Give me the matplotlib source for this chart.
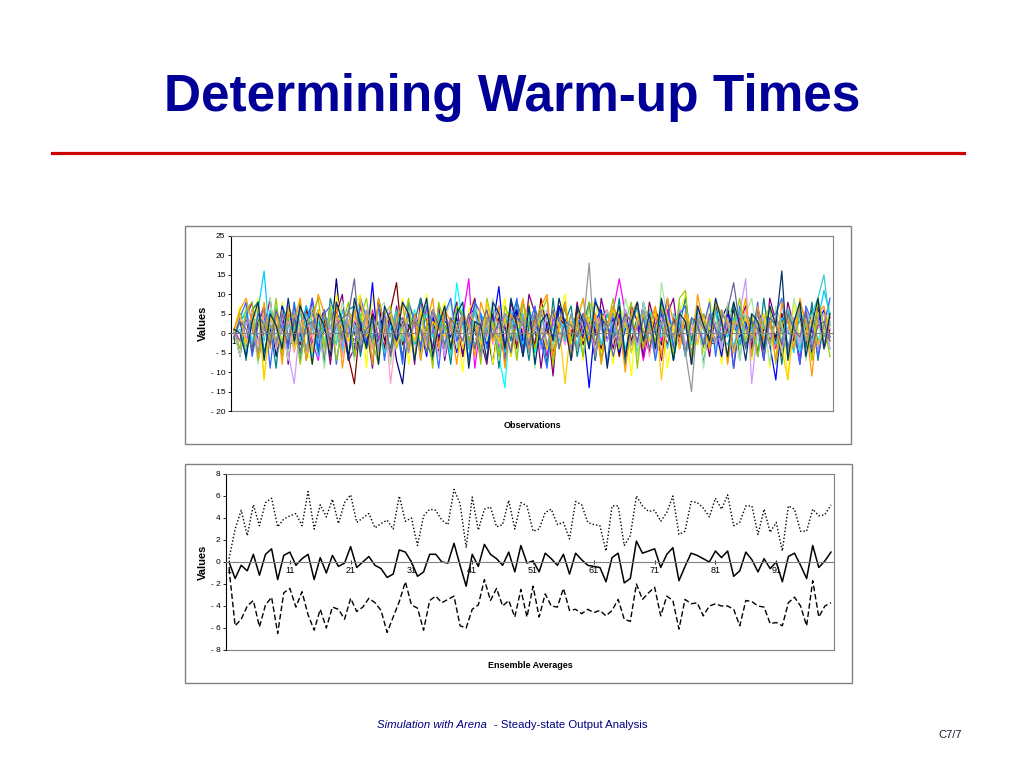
import matplotlib
matplotlib.use('Agg')
import matplotlib.pyplot as plt
from matplotlib.patches import Rectangle
from matplotlib.lines import Line2D
from matplotlib.ticker import FuncFormatter

plt.rcParams['font.family'] = ['Liberation Sans', 'DejaVu Sans']

W, H = 1024, 768

obs = list(range(1, 101))

# replications (top chart), one list per run
rep01 = [0, 3, -4, 6, -2, 1, 5, -6, 2, -3, 4, -1, 7, -5, 2, 6, -3, 14, -2, 3,
         -6, 1, 5, -4, 8, -2, 3, -7, -13, 2, 5, -3, 1, 6, -5, 2, -1, 4, -6, 3,
         7, -2, 1, -8, 4, 2, -5, 6, -1, 3, -4, 5, 2, -6, 1, 7, -3, 4, -2, 0,
         5, -7, 3, 1, -4, 6, -2, 2, -5, 4, 1, -3, 6, -1, 3, -6, 2, 5, -4, 1,
         -2, 4, 7, -5, 2, -3, 1, 6, -4, 3, -1, 5, -6, 2, 4, -3, 1, -5, 3, 2]
rep02 = [1, -2, 5, -4, 3, 7, -1, 2, -6, 4, -3, 2, 6, -2, -7, 3, 1, 5, -4, 0,
         3, -5, 2, 6, -1, -3, 4, 1, -6, 5, 2, -4, 7, 0, -3, 5, 1, -2, 4, 14,
         -9, 3, -1, 5, -4, 2, 6, -3, 1, -5, 4, 2, -6, 3, 7, -2, 1, -4, 5, -1,
         3, -5, 2, 6, 14, 5, -3, 2, -7, 1, 4, -2, 6, -4, 1, 3, -6, 5, 2, -3,
         7, -1, 2, -5, 4, 1, -3, 6, -2, 3, -4, 2, 5, -1, -6, 3, 1, 4, -3, 2]
rep03 = [0, 7, -5, 3, 9, -12, 5, -2, 8, -6, 3, 9, -4, -8, 6, 2, -7, 10, 3, -5,
         7, 10, -9, 10, 2, -6, 6, -3, 9, -8, 4, -2, 10, -7, 3, 8, -5, 2, -10, 6,
         9, -4, 5, -8, 2, 9, -6, 3, -2, 8, -5, 7, 2, -9, 5, 10, -3, 8, -7, 4,
         9, -5, 2, -8, 7, 3, -11, 5, -2, 8, -4, 6, -9, 2, 5, 10, -7, 3, -5, 9,
         2, -8, 7, 3, -4, 8, -7, 2, 5, -9, 6, 3, -12, 8, -2, 5, -7, 9, -4, 2]
rep04 = [-1, 3, 6, -2, 4, -5, 1, 7, -3, 2, -4, 5, 1, -6, 3, -2, 4, 1, -5, 6,
         2, -3, 5, -1, 3, -6, 2, 4, -2, 1, 6, -4, 2, -3, 5, 1, -5, 13, 3, -7,
         2, 5, -3, 4, -6, -14, 6, 1, -2, 4, -5, 3, 2, -4, 6, -1, 3, -3, 5, 1,
         -6, 4, 2, -2, 5, -4, 1, 3, -5, 6, 2, -1, 4, -7, 3, 1, -3, 5, -2, 4,
         -4, 6, 1, -3, 2, 5, -6, 3, -1, 2, 5, -3, 1, 4, -5, 2, 6, -2, 3, -4]
rep05 = [1, -6, 4, 8, -7, 1, 9, -4, 6, -8, 7, 2, -6, 9, -2, 4, -8, 5, 10, -7,
         -4, 7, 2, -9, 8, 3, -6, 7, -2, 5, -8, 9, 3, -4, 7, -7, 2, 8, -6, 4,
         9, -2, -8, 5, 3, -7, 8, 2, -4, 10, 5, -9, 3, -11, 7, 2, -6, 8, -2, 4,
         -7, 9, 2, -4, 5, -8, 7, 3, -6, 8, 2, -7, 5, 9, -4, 3, -8, 7, 2, -6,
         8, -2, 5, -9, 3, 7, -4, 2, -7, 9, 3, -6, 8, 2, -8, 5, -2, 7, -4, 1]
rep06 = [0, -2, 4, -5, 3, 6, -1, 2, -4, 5, 1, -3, 6, 2, -5, 3, -2, 4, 1, -6,
         -13, 3, -1, 5, 2, -4, 6, 13, -3, 1, 4, -5, 2, 3, -2, 6, -4, 1, 5, -3,
         2, -6, 4, 1, -2, 5, 3, -4, 8, 2, -3, 9, 1, -5, 4, 2, -1, 6, -3, 3,
         1, -4, 5, 2, -6, 3, -2, 4, 1, -5, 6, 2, -3, 4, -1, 3, -5, 2, 5, -2,
         3, -4, 1, 6, -3, 2, 4, -5, 1, 3, -2, 5, -4, 2, 3, -1, 6, -3, 1, 4]
rep07 = [0, 5, -7, 6, 8, -5, 2, -9, 7, 3, -4, 8, -7, 2, 6, -8, 9, 3, -2, 6,
         7, -6, 3, -8, 9, 2, -4, 6, -7, 8, 3, 9, -2, -7, 5, 2, -8, 7, 4, -4,
         8, -6, 2, 7, -9, 5, -2, 8, 3, -7, 6, 2, -8, 9, -4, 3, 7, -6, 2, 8,
         -7, 4, 6, -2, 9, -8, 2, 7, -4, 5, -6, 8, 3, -7, 2, 9, -2, 6, -8, 3,
         7, -4, 2, 8, -7, 5, 3, -6, 9, -2, 4, -8, 6, 2, 7, -4, 8, -7, 3, 1]
rep08 = [0, 5, -2, 3, -6, 4, 1, -3, 7, -1, 3, -5, 2, 6, -4, 1, -2, 5, 3, -6,
         2, 4, -3, 13, -5, 1, 6, -2, 3, -4, 5, 1, -6, 4, -1, 3, 2, -5, 6, -2,
         1, 4, -3, 2, 12, -4, 3, 6, -2, 1, 5, -4, 2, -1, 7, 3, -5, 4, 1, -14,
         3, 6, -2, 4, -5, 1, 3, -3, 8, 2, -4, 5, 1, -2, 6, -5, 3, 2, -3, 4,
         1, -6, 5, 2, -1, 3, -4, 6, 2, -3, -12, 4, 3, -2, 5, 1, -5, 3, 6, -1]
rep09 = [-1, 3, 5, -4, 6, 16, -3, 2, -5, 4, 1, -2, 7, 3, -6, 2, 5, -1, -4, 3,
         6, -2, 1, 4, -5, 3, -1, 5, 2, -3, 4, -6, 2, 1, 5, -3, 3, -2, 6, 1,
         -4, 5, 2, -1, 3, -5, 4, 1, -3, 6, 2, -4, 5, 1, -2, 3, -6, 4, 2, -1,
         5, -3, 1, 6, -4, 2, 3, -5, 4, 1, -2, 6, 1, -3, 4, 2, -5, 3, 1, -4,
         6, 2, -1, 4, -3, 5, 1, -6, 3, 2, -3, 4, 1, -5, 6, 2, -2, 3, 11, 5]
rep10 = [0, -6, 7, 3, -8, 5, 9, -4, 2, -7, 8, 3, -6, 7, 2, -9, 5, -2, 8, 3,
         -7, 9, 2, -4, 6, 8, -8, 3, -2, 7, 5, -7, 9, 2, -6, 4, 8, -4, 2, -8,
         7, 3, -2, 9, -7, 5, 2, -6, 8, 3, -9, 7, 5, -4, 2, 8, -7, 4, 9, -2,
         5, -8, 2, 7, -4, 9, 3, -6, 8, 2, -7, 13, 4, -2, 8, -6, 2, 7, -9, 5,
         3, -4, 8, 2, -7, 5, 9, -2, 4, -8, 7, 2, -6, 9, 3, -7, 5, 2, -4, 8]
rep11 = [1, 4, -2, 6, -3, 1, 5, -4, 2, 3, -5, 2, 4, -1, 6, -3, 1, 3, -6, 2,
         5, -1, 3, -4, 2, 6, -13, 1, 4, -2, 3, 5, -3, 2, -6, 4, 1, -2, 5, 3,
         -4, 1, 6, -3, 2, 4, -5, 3, 1, -2, 5, 2, -4, 6, 1, -3, 3, -1, 4, 2,
         -5, 3, 6, -2, 1, 4, -3, 2, 5, -6, 2, 4, -1, 3, -4, 6, 1, -2, 5, 3,
         -3, 1, 4, -5, 2, 6, -1, 3, -4, 2, 5, -2, 1, 4, -3, 6, 2, -5, 3, 1]
rep12 = [0, -4, 3, 1, -2, 5, -3, 6, 2, -5, -13, 3, 1, -4, 5, 2, -1, 4, -3, 6,
         2, -2, 5, 1, -4, 3, 6, -1, 2, -5, 4, 1, -3, 5, 2, -6, 3, 1, -2, 4,
         6, -3, 2, 1, -5, 4, 3, -2, 5, -1, 2, -4, 6, 3, -1, 1, -5, 4, 2, -3,
         5, 1, -2, 3, -4, 6, 2, -3, 1, 4, -5, 3, 2, -1, 6, -3, 1, 4, -2, 5,
         2, -4, 3, 1, 5, 14, -13, 2, 4, -1, 3, -5, 6, 1, -2, 4, -3, 2, 5, -4]
rep13 = [-1, 4, 8, -6, 2, 7, -9, 5, 3, -4, 8, -7, 2, 9, -4, 5, 7, -8, 3, 2,
         -6, 9, 4, -2, 7, -7, 5, 2, -8, 8, 3, -4, 7, 2, -9, 5, 9, -2, 3, -7,
         8, 5, -4, 2, 7, -8, 3, 9, -6, 2, 7, -2, -9, 5, 3, 8, -7, 2, 5, -4,
         9, 3, -8, 7, 2, -6, 5, 8, -2, 3, -7, 2, 9, -4, 5, 7, -8, 3, 2, 8,
         -6, 5, 3, -9, 7, 2, -2, 8, -7, 4, 5, 9, -4, 2, -8, 7, 3, -6, 2, 9]
rep14 = [0, 1, -5, 4, 3, -2, 6, 1, -4, 2, 3, -6, 5, 1, -2, 4, 2, -3, 6, -1,
         1, 5, -4, 2, 3, -5, 1, 6, -2, 4, -3, 2, 5, -1, 4, 1, -6, 3, 2, -4,
         6, -2, 1, 3, -5, 4, 2, -1, 5, -3, 1, 6, -4, 2, 3, -2, 5, 1, -6, 4,
         2, -3, 5, 1, -1, 4, -5, 3, 6, -2, 1, 3, -4, 5, 2, -6, 4, 1, -2, 3,
         5, -1, -3, 2, 6, -4, 1, 3, -5, 4, 2, -2, 6, 1, -4, 3, 5, 9, 15, 2]
rep15 = [1, -4, 6, 8, -7, 3, -2, 9, -6, 7, 3, -8, 2, 5, 9, -4, 7, -7, 2, 8,
         -6, 4, 9, -2, -8, 5, 7, -4, 2, 9, -7, 5, 3, -9, 8, 2, -4, 7, 5, -2,
         3, -8, 9, 2, -6, 7, 3, -7, 8, 2, -4, 5, 9, -8, 2, 7, -2, 4, -6, 8,
         5, -7, 2, 9, -4, 3, 8, -9, 5, 2, -2, 7, 3, -6, 9, 11, -8, 2, 5, -4,
         8, 3, -7, 2, 9, -2, 5, -6, 3, 7, -8, 2, 5, -4, 8, 3, -7, 9, 2, -6]
rep16 = [0, 5, -3, 2, 7, -12, 4, 1, -2, 6, -4, 3, 1, -5, 6, 2, -3, 5, 1, -2,
         4, 9, -1, 3, -6, 2, 5, -3, 1, 4, -2, 6, -5, 3, 1, -1, 4, 2, -4, 5,
         3, -3, 8, 1, -2, 4, -6, 3, 2, -1, 5, 1, -4, 6, 2, -13, 3, 1, -2, 4,
         -3, 5, 2, 6, -1, 3, -5, 4, 1, -2, 6, -12, 3, 1, -4, 5, 2, -3, 4, 1,
         -2, 6, 3, -5, 1, 4, -1, 2, 5, -3, 3, -4, -12, 2, 6, -1, 4, -3, 1, 5]
rep17 = [1, 6, 9, 3, -6, 8, -4, 5, -8, 7, 3, 9, -7, 2, 10, 5, -4, 8, -9, 3,
         6, -2, 5, -8, 9, 2, -6, 3, 8, -4, 5, -7, 2, 9, -4, 6, 3, -8, 5, 2,
         -6, 8, 3, -2, 7, -9, 5, 2, 9, -4, 3, 7, 10, -6, 2, 8, -7, 3, 9, -2,
         5, -8, 2, 7, 3, -10, 5, 8, -4, 2, 7, -6, 9, 3, -2, 5, -7, 10, 2, -4,
         8, 5, -8, 3, 2, 9, -6, 7, -2, 3, -7, 8, 3, -4, 9, 2, -11, 5, 7, -2]
rep18 = [-1, 3, 1, -4, 5, 2, -3, 6, 1, -2, 4, -5, 2, 3, -1, 6, -3, 2, 4, 5,
         14, -4, 1, 3, -2, 5, -6, 2, 4, -1, 3, 1, -5, 6, 2, -3, 4, 1, -2, 5,
         -4, 2, 6, -1, 3, 1, -5, 4, 2, -3, 5, -2, 1, 6, -4, 3, 2, -1, 5, 1,
         -3, 4, 2, -6, 1, 5, 3, -2, 4, -4, 2, 6, -1, 3, 1, -5, 4, 2, -3, 5,
         1, -2, 6, 13, 2, -4, 3, 1, -5, 4, 2, -3, 5, 1, -1, 6, -4, 2, 3, -2]
rep19 = [0, -2, 4, 1, -5, 3, 2, -3, 6, -1, 5, 2, -4, 3, 1, -6, 4, 2, -2, 5,
         1, -3, 6, 2, -4, 3, -1, 5, 2, -5, 4, 1, -2, 6, 3, -4, 2, 1, 5, -3,
         2, -6, 4, 1, -1, 5, 3, -2, 4, -5, 1, 6, -3, 2, 4, -1, 5, -4, 2, 18,
         -6, 3, 1, 5, -2, 4, -3, 2, 6, 1, -4, 3, 2, -1, 5, -5, -15, 4, 1, 3,
         -2, 6, 2, -4, 3, 1, -1, 5, 2, -3, 4, 1, -5, 3, 6, -2, 2, 4, -1, 3]
rep20 = [1, 0, -6, 3, 8, -7, 5, 2, -4, 9, -2, 7, 3, -8, 5, 2, -6, 8, 3, -7,
         9, 2, -4, 5, -8, 7, 3, -2, 8, 5, -7, 3, 9, -6, 2, 7, -4, 5, 8, -9,
         3, 2, -7, 8, 5, -4, 9, 2, -6, 7, -8, 3, 5, -2, 9, 2, -7, 7, 3, -4,
         8, 5, -9, 2, 7, -6, 3, 8, -2, 5, -4, 9, 2, -7, 5, 3, -8, 7, 2, -2,
         9, 3, -6, 8, 2, -7, 5, 3, -4, 7, 2, 16, -7, 3, 8, -6, 2, 9, -4, 5]

reps = [rep01, rep02, rep03, rep04, rep05, rep06, rep07, rep08, rep09, rep10,
        rep11, rep12, rep13, rep14, rep15, rep16, rep17, rep18, rep19, rep20]
rep_colors = ['#000080', '#FF00FF', '#FFFF00', '#00FFFF', '#800080',
              '#800000', '#008080', '#0000FF', '#00CCFF', '#A8E6A8',
              '#FF99CC', '#CC99FF', '#3366FF', '#33CCCC', '#99CC00',
              '#FFCC00', '#FF9900', '#666699', '#969696', '#003366']

# ensemble averages (bottom chart)
avg_mean = [0.0, -1.5, -0.3, -0.8, 0.7, -1.2, 0.7, 1.2, -1.6, 0.6,
            0.9, -0.3, 0.3, 0.7, -1.6, 0.4, -1.0, 0.6, -0.4, -0.1,
            1.4, -0.5, 0.0, 0.5, -0.3, -0.6, -1.4, -1.1, 1.1, 0.9,
            0.0, -1.3, -0.9, 0.7, 0.7, 0.0, -0.1, 1.7, -0.3, -2.2,
            0.7, -0.4, 1.6, 0.7, 0.3, -0.3, 0.9, -0.9, 1.5, -0.1,
            0.1, -0.9, 0.8, 0.3, -0.3, 0.7, -1.1, 0.8, 0.2, -0.3,
            -0.4, -0.5, -1.8, 0.4, 0.8, -1.9, -1.5, 1.9, 0.8, 1.0,
            1.2, -0.5, 0.7, 1.3, -1.7, -0.4, 0.8, 0.6, 0.3, 0.0,
            1.0, 0.4, 1.0, -1.3, -0.8, 0.9, 0.2, -0.9, 0.3, -0.6,
            0.0, -1.8, 0.5, 0.8, -0.3, -1.5, 1.5, -0.5, 0.1, 0.9]
avg_upper = [0.3, 3.0, 4.7, 2.4, 5.2, 3.3, 5.4, 5.8, 3.2, 3.9,
             4.2, 4.4, 3.3, 6.4, 3.0, 5.2, 4.1, 5.7, 3.5, 5.4,
             6.1, 3.6, 4.0, 4.4, 3.1, 3.5, 3.8, 3.0, 6.0, 3.7,
             4.0, 1.5, 4.2, 4.8, 4.7, 3.8, 3.4, 6.6, 5.3, 1.3,
             5.9, 2.9, 4.8, 5.0, 3.2, 3.4, 5.6, 3.0, 5.4, 5.1,
             2.8, 3.0, 4.5, 4.8, 3.4, 3.6, 2.1, 5.5, 5.2, 3.6,
             3.4, 3.3, 1.0, 5.1, 5.1, 1.5, 2.4, 6.0, 5.1, 4.6,
             4.7, 3.7, 4.5, 6.0, 2.5, 2.8, 5.5, 5.4, 4.9, 4.1,
             5.8, 4.8, 6.1, 3.3, 3.6, 5.1, 5.1, 2.5, 4.8, 2.7,
             3.6, 1.0, 5.1, 4.8, 2.8, 2.8, 4.8, 4.2, 4.3, 5.2]
avg_lower = [-0.6, -5.8, -5.2, -4.0, -3.5, -5.9, -3.9, -3.2, -6.5, -2.8,
             -2.4, -4.1, -2.7, -4.8, -6.2, -4.3, -6.0, -4.1, -4.3, -5.2,
             -3.3, -4.5, -4.1, -3.3, -3.7, -4.4, -6.4, -5.0, -3.6, -1.8,
             -3.9, -4.2, -6.2, -3.5, -3.1, -3.7, -3.4, -3.1, -5.8, -6.0,
             -4.3, -3.9, -1.6, -3.5, -2.4, -4.0, -3.5, -5.0, -2.5, -5.0,
             -2.2, -5.0, -2.9, -4.0, -4.1, -2.4, -4.4, -4.3, -4.7, -4.3,
             -4.6, -4.4, -4.9, -4.4, -3.4, -5.2, -5.4, -2.0, -3.4, -2.8,
             -2.3, -4.9, -3.1, -3.5, -6.1, -3.4, -3.8, -3.7, -4.9, -4.0,
             -3.8, -4.0, -4.0, -4.3, -5.8, -3.5, -3.6, -4.0, -4.1, -5.6,
             -5.5, -5.8, -3.7, -3.2, -4.0, -5.8, -1.7, -5.0, -4.0, -3.7]

x_ticks = [1, 11, 21, 31, 41, 51, 61, 71, 81, 91]
top_yticks = [-20, -15, -10, -5, 0, 5, 10, 15, 20, 25]
bot_yticks = [-8, -6, -4, -2, 0, 2, 4, 6, 8]


def box(l, t, r, b):
    # pixel box -> figure fractions
    return [l / W, 1 - b / H, (r - l) / W, (b - t) / H]


def frame(fig, l, t, r, b):
    fig.patches.append(Rectangle((l / W, 1 - b / H), (r - l) / W, (b - t) / H,
                                 transform=fig.transFigure, fill=False,
                                 edgecolor='#808080', lw=1.0))


def excel_num(v, pos):
    if v < 0:
        return '- %g' % abs(v)
    return '%g' % v


def style_axes(ax, ymin, ymax, yticks):
    ax.set_xlim(0.5, 100.5)
    ax.set_ylim(ymin, ymax)
    ax.set_yticks(yticks)
    ax.yaxis.set_major_formatter(FuncFormatter(excel_num))
    ax.set_xticks(x_ticks)
    ax.set_xticklabels([str(t) for t in x_ticks])
    for s in ['top', 'right']:
        ax.spines[s].set_color('#808080')
        ax.spines[s].set_linewidth(0.8)
    ax.spines['left'].set_color('#000000')
    ax.spines['left'].set_linewidth(0.8)
    ax.spines['bottom'].set_position(('data', 0))
    ax.spines['bottom'].set_color('#808080')
    ax.spines['bottom'].set_linewidth(0.8)
    ax.add_line(Line2D([0, 1], [0, 0], transform=ax.transAxes,
                       color='#808080', lw=0.8, clip_on=False))
    ax.tick_params(axis='y', direction='out', length=2.5, width=0.6,
                   labelsize=6, pad=1.5, colors='#000000')
    ax.tick_params(axis='x', direction='inout', length=3, width=0.6,
                   labelsize=6.5, pad=1.5)


fig = plt.figure(figsize=(W / 100, H / 100), dpi=100)

fig.text(0.5, 1 - 97 / H, 'Determining Warm-up Times', ha='center', va='center',
         fontsize=37, fontweight='bold', color='#000099')
fig.add_artist(Line2D([52 / W, 964 / W], [1 - 153 / H, 1 - 153 / H],
                      transform=fig.transFigure, color='#CC0000', lw=2.3))

# top chart: individual replications
frame(fig, 185, 226, 851, 444)
ax1 = fig.add_axes(box(231, 236, 833, 411))
for vals, col in zip(reps, rep_colors):
    ax1.plot(obs, vals, color=col, lw=0.9)
style_axes(ax1, -20, 25, top_yticks)
fig.text(203 / W, 1 - 323 / H, 'Values', rotation=90, ha='center', va='center',
         fontsize=8, fontweight='bold')
fig.text(532 / W, 1 - 426 / H, 'Observations', ha='center', va='center',
         fontsize=6.5, fontweight='bold')

# bottom chart: ensemble averages
frame(fig, 185, 464, 852, 683)
ax2 = fig.add_axes(box(226, 474, 834, 650))
ax2.plot(obs, avg_upper, color='black', lw=1.0, ls=(0, (1, 1.5)))
ax2.plot(obs, avg_mean, color='black', lw=1.1)
ax2.plot(obs, avg_lower, color='black', lw=1.0, ls=(0, (4, 2)))
style_axes(ax2, -8, 8, bot_yticks)
fig.text(203 / W, 1 - 562 / H, 'Values', rotation=90, ha='center', va='center',
         fontsize=8, fontweight='bold')
fig.text(530 / W, 1 - 665 / H, 'Ensemble Averages', ha='center', va='center',
         fontsize=6.5, fontweight='bold')

# footer
fig.text(377 / W, 1 - 725 / H, 'Simulation with Arena', ha='left', va='center',
         fontsize=8.2, style='italic', color='#000080')
fig.text(494 / W, 1 - 725 / H, '- Steady-state Output Analysis', ha='left',
         va='center', fontsize=8.2, color='#000080')
fig.text(962 / W, 1 - 735 / H, 'C7/7', ha='right', va='center', fontsize=8,
         color='#1a1a33')

fig.savefig('out.png', dpi=100)
